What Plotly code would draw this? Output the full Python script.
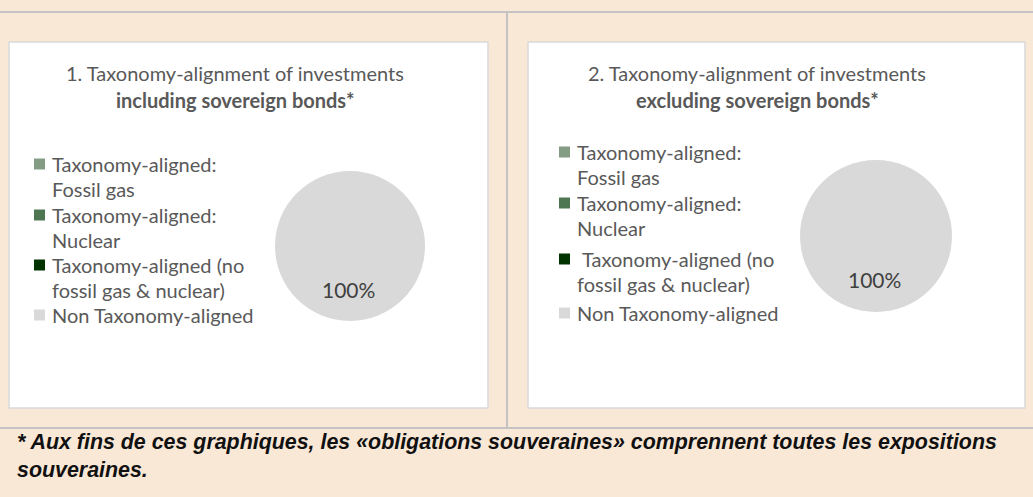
import plotly.graph_objects as go

W, H = 1033, 497

categories = [
    "Taxonomy-aligned:<br>Fossil gas",
    "Taxonomy-aligned:<br>Nuclear",
    "Taxonomy-aligned (no<br>fossil gas & nuclear)",
    "Non Taxonomy-aligned",
]
values_incl = [0, 0, 0, 100]
values_excl = [0, 0, 0, 100]
colors = ["#839C83", "#4F7653", "#003300", "#D9D9D9"]

title1 = ["1. Taxonomy-alignment of investments", "<b>including sovereign bonds*</b>"]
title2 = ["2. Taxonomy-alignment of investments", "<b>excluding sovereign bonds*</b>"]
footnote = ("* Aux fins de ces graphiques, les «obligations souveraines» comprennent toutes les expositions"
            "<br>souveraines.")

BG = "#FAE8D7"
LINE = "#C3C3C3"
TXT = "#595959"
FONT = "Lato, sans-serif"
FS = 20


def px(x):
    return x / W


def py(y):
    return 1 - y / H


fig = go.Figure()

panels = [
    dict(values=values_incl, title=title1, box=(9, 42, 488, 408), pie=(350, 246, 75),
         title_x=235, leg_x=34, leg_y=[164, 215, 265, 315], indent=[0, 0, 0, 0]),
    dict(values=values_excl, title=title2, box=(528, 42, 1025, 408), pie=(876, 236, 76),
         title_x=757, leg_x=559, leg_y=[152, 203, 259, 313], indent=[0, 0, 5, 0]),
]

shapes = []
annotations = []

# frame lines
shapes.append(dict(type="line", xref="paper", yref="paper", x0=0, x1=1, y0=py(12), y1=py(12),
                   line=dict(color=LINE, width=2)))
shapes.append(dict(type="line", xref="paper", yref="paper", x0=0, x1=1, y0=py(428), y1=py(428),
                   line=dict(color=LINE, width=2)))
shapes.append(dict(type="line", xref="paper", yref="paper", x0=px(507), x1=px(507), y0=py(12), y1=py(428),
                   line=dict(color=LINE, width=2)))

for p in panels:
    x0, y0, x1, y1 = p["box"]
    shapes.append(dict(type="rect", xref="paper", yref="paper", x0=px(x0), x1=px(x1), y0=py(y1), y1=py(y0),
                       fillcolor="white", line=dict(color="#D9D9D9", width=1.5), layer="below"))
    cx, cy, r = p["pie"]
    fig.add_trace(go.Pie(
        labels=categories, values=p["values"], sort=False, direction="clockwise", rotation=0,
        marker=dict(colors=colors, line=dict(width=0)),
        textinfo="none", hoverinfo="label+percent", showlegend=False,
        domain=dict(x=[px(cx - r), px(cx + r)], y=[py(cy + r), py(cy - r)]),
    ))
    total = sum(p["values"])
    for v in p["values"]:
        if v > 0:
            annotations.append(dict(xref="paper", yref="paper", x=px(cx - 2), y=py(cy + 43),
                                    text=f"{v / total * 100:.0f}%", showarrow=False,
                                    font=dict(family=FONT, size=21, color="#404040"),
                                    xanchor="center", yanchor="middle"))
    annotations.append(dict(xref="paper", yref="paper", x=px(p["title_x"]), y=py(73),
                            text=p["title"][0], showarrow=False,
                            font=dict(family=FONT, size=FS, color=TXT), xanchor="center", yanchor="middle"))
    annotations.append(dict(xref="paper", yref="paper", x=px(p["title_x"]), y=py(100),
                            text=p["title"][1], showarrow=False,
                            font=dict(family=FONT, size=FS, color=TXT), xanchor="center", yanchor="middle"))
    # legend
    line_h = 25.3
    for lab, col, yy, ind in zip(categories, colors, p["leg_y"], p["indent"]):
        shapes.append(dict(type="rect", xref="paper", yref="paper",
                           x0=px(p["leg_x"]), x1=px(p["leg_x"] + 11),
                           y0=py(yy + 5.5), y1=py(yy - 5.5), fillcolor=col, line=dict(width=0)))
        lines = lab.split("<br>")
        for i, ln in enumerate(lines):
            annotations.append(dict(xref="paper", yref="paper",
                                    x=px(p["leg_x"] + 16 + (ind if i == 0 else 0)), y=py(yy + i * line_h),
                                    text=ln, showarrow=False,
                                    font=dict(family=FONT, size=FS, color=TXT),
                                    xanchor="left", yanchor="middle"))

annotations.append(dict(xref="paper", yref="paper", x=px(15), y=py(456), text="<b><i>" + footnote + "</i></b>",
                        showarrow=False, align="left",
                        font=dict(family="Liberation Sans, Arial, sans-serif", size=21.4, color="#111111"),
                        xanchor="left", yanchor="middle"))

fig.update_layout(
    width=W, height=H, margin=dict(l=0, r=0, t=0, b=0),
    paper_bgcolor=BG, plot_bgcolor=BG,
    shapes=shapes, annotations=annotations, showlegend=False,
)

fig.write_html("out.html", config={"displayModeBar": False},
               post_script="document.body.style.margin='0px';")
